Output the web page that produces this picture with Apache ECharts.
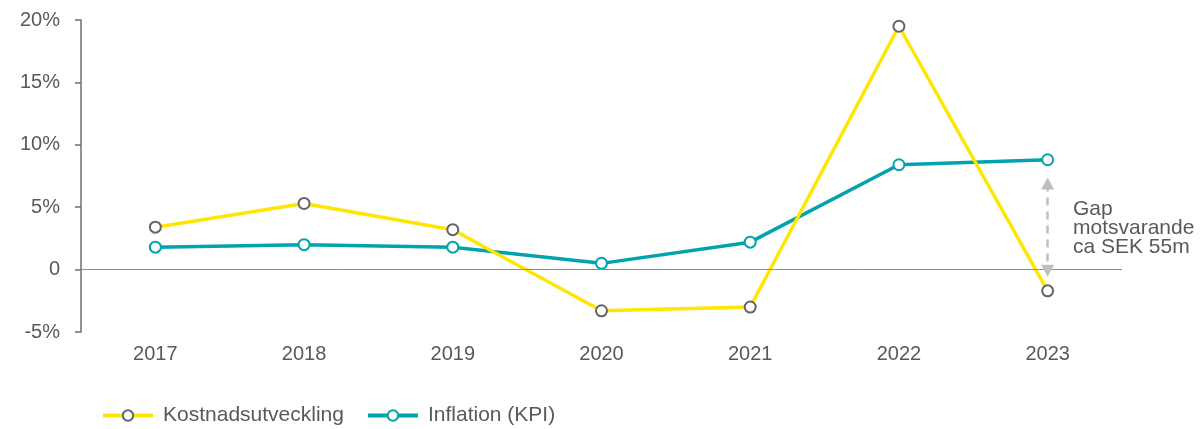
<!DOCTYPE html>
<html>
<head>
<meta charset="utf-8">
<script src="https://cdn.jsdelivr.net/npm/echarts@6/dist/echarts.min.js"></script>
<style>
  html, body { margin: 0; padding: 0; background: #fff; }
  #chart { width: 1202px; height: 429px; }
</style>
</head>
<body>
<div id="chart"></div>
<script>
// 数据
const years = ['2017', '2018', '2019', '2020', '2021', '2022', '2023']
const kostnad = [3.4, 5.3, 3.2, -3.3, -3.0, 19.5, -1.7]
const inflation = [1.8, 2.0, 1.8, 0.5, 2.2, 8.4, 8.8]
const yTicks = [-5, 0, 5, 10, 15, 20]
const gapFrom = 6.9
const gapTo = -0.1

const chart = echarts.init(document.getElementById('chart'))
const font = 'Liberation Sans, Arial, sans-serif'
const grey = '#595959'

chart.setOption({
  animation: false,
  textStyle: { fontFamily: font },
  grid: { left: 81, right: 80, top: 20, bottom: 97 },
  legend: {
    left: 96,
    top: 400,
    itemWidth: 50,
    itemHeight: 13,
    itemGap: 22,
    lineStyle: { width: 4 },
    textStyle: { fontSize: 21, color: grey, fontFamily: font, padding: [0, 0, 0, 5] },
    data: ['Kostnadsutveckling', 'Inflation (KPI)']
  },
  xAxis: {
    type: 'category',
    data: years,
    axisLine: { show: false },
    axisTick: { show: false },
    axisLabel: { fontSize: 20, color: grey, margin: 12 }
  },
  yAxis: {
    type: 'value',
    min: yTicks[0],
    max: yTicks[yTicks.length - 1],
    interval: 5,
    splitLine: { show: false },
    axisLine: { show: true, lineStyle: { color: '#6e6e6e', width: 1.5 } },
    axisTick: { show: true, length: 6, lineStyle: { color: '#6e6e6e', width: 1.5 } },
    axisLabel: {
      fontSize: 20,
      color: grey,
      margin: 21,
      formatter: v => (v === 0 ? '0' : v + '%')
    }
  },
  series: [
    {
      name: 'Kostnadsutveckling',
      type: 'line',
      data: kostnad,
      symbol: 'circle',
      symbolSize: 11,
      lineStyle: { color: '#ffe600', width: 3.5 },
      itemStyle: { color: '#fff', borderColor: '#646464', borderWidth: 2 },
      z: 3,
      markLine: {
        silent: true,
        symbol: 'none',
        label: { show: false },
        lineStyle: { color: '#8c8c8c', width: 1, type: 'solid' },
        data: [{ yAxis: 0 }]
      }
    },
    {
      name: 'Inflation (KPI)',
      type: 'line',
      data: inflation,
      symbol: 'circle',
      symbolSize: 11,
      lineStyle: { color: '#00a3ae', width: 3.5 },
      itemStyle: { color: '#fff', borderColor: '#00a3ae', borderWidth: 2 },
      z: 2,
      markLine: {
        silent: true,
        symbol: ['triangle', 'triangle'],
        symbolSize: [13, 12],
        label: { show: false },
        lineStyle: { color: '#bfbfbf', width: 2.5, type: [8, 6] },
        data: [[
          { coord: ['2023', gapFrom] },
          { coord: ['2023', gapTo] }
        ]]
      }
    }
  ],
  graphic: [
    {
      type: 'text',
      left: 1073,
      top: 199,
      style: {
        text: 'Gap\nmotsvarande\nca SEK 55m',
        fill: grey,
        font: '21px ' + font,
        lineHeight: 19
      }
    }
  ]
})
</script>
</body>
</html>
